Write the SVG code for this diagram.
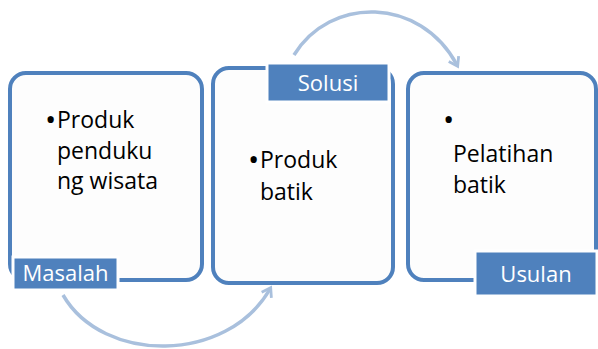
<svg xmlns="http://www.w3.org/2000/svg" width="598" height="349" viewBox="0 0 598 349">
<style>
.box{fill:#fdfdfd;stroke:#4f81bd;stroke-width:4}
.lab{fill:#4f81bd;stroke:#ffffff;stroke-width:3}
.lt{font-family:"Open Sans","Noto Sans",sans-serif;font-size:22px;fill:#ffffff}
.bt{font-family:"Open Sans","Noto Sans",sans-serif;font-size:23px;fill:#000000}
.bu{font-family:"Open Sans","Noto Sans",sans-serif;font-size:30px;fill:#000000}
.arc{fill:none;stroke:#a9c0dd;stroke-width:3.5;marker-end:url(#ah)}
</style>
<defs>
<marker id="ah" viewBox="0 0 10 10" refX="6" refY="5" markerWidth="4" markerHeight="4" orient="auto" markerUnits="strokeWidth">
<path d="M1,1 L7,5 L1,9" fill="none" stroke="#a9c0dd" stroke-width="2"/>
</marker>
</defs>
<g id="connectors">
<path class="arc" d="M63,295 C103,364 227,364 270,289"/>
<path class="arc" d="M294,55 C330,-4 420,-4 457,65"/>
</g>
<g id="masalah">
<rect class="box" x="10" y="73" width="192" height="207" rx="16"/>
<rect class="lab" x="13" y="257" width="105" height="33"/>
<text class="lt" x="65.5" y="281" text-anchor="middle">Masalah</text>
<text class="bu" x="45" y="130">•</text>
<text class="bt" x="57" y="128">Produk</text>
<text class="bt" x="57" y="159">penduku</text>
<text class="bt" x="57" y="189">ng wisata</text>
</g>
<g id="solusi">
<rect class="box" x="213" y="68" width="180" height="215" rx="16"/>
<rect class="lab" x="267" y="63" width="122" height="39"/>
<text class="lt" x="328" y="91" text-anchor="middle">Solusi</text>
<text class="bu" x="248" y="170">•</text>
<text class="bt" x="260" y="168">Produk</text>
<text class="bt" x="260" y="200">batik</text>
</g>
<g id="usulan">
<rect class="box" x="408" y="73" width="188" height="207" rx="16"/>
<rect class="lab" x="475" y="251" width="122" height="45"/>
<text class="lt" x="536" y="282" text-anchor="middle">Usulan</text>
<text class="bu" x="443" y="130">•</text>
<text class="bt" x="453" y="162">Pelatihan</text>
<text class="bt" x="453" y="193">batik</text>
</g>
</svg>
